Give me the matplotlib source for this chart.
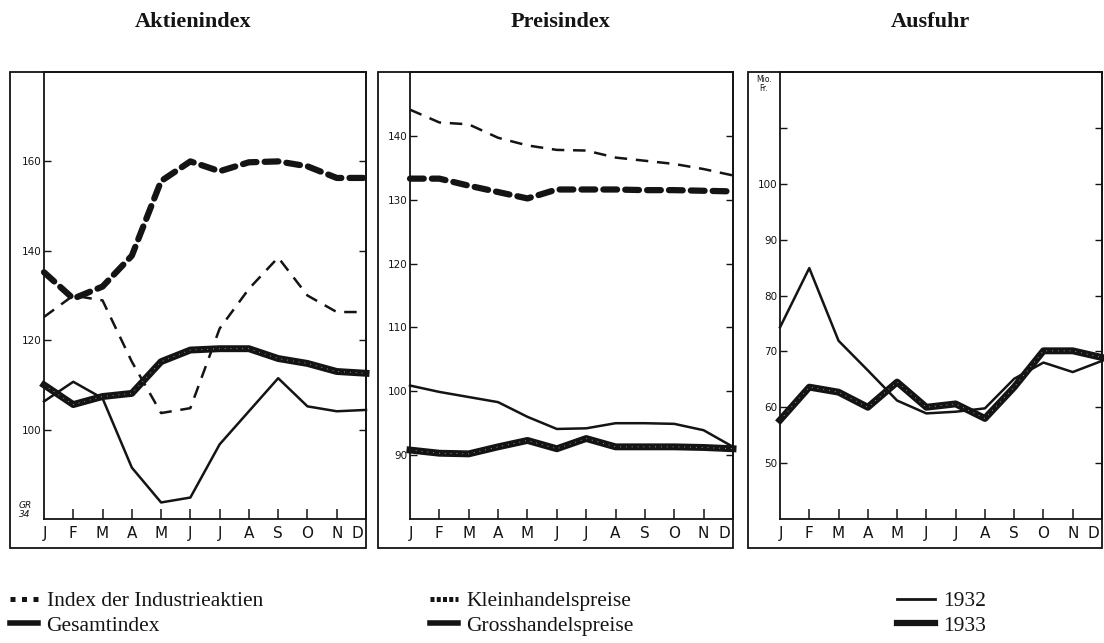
import matplotlib
matplotlib.use("Agg")
import matplotlib.pyplot as plt
from matplotlib.patches import Rectangle
from matplotlib.lines import Line2D

# months
months = ['J', 'F', 'M', 'A', 'M', 'J', 'J', 'A', 'S', 'O', 'N', 'D']

# Aktienindex
industrie_1932 = [125.2, 130.0, 128.9, 115.2, 103.7, 104.8, 122.6, 131.5, 138.5, 130.0, 126.3, 126.3]
industrie_1933 = [135.2, 129.3, 132.0, 138.9, 155.6, 160.0, 157.8, 159.8, 160.0, 158.9, 156.3, 156.3]
gesamt_1932 = [106.3, 110.7, 107.0, 91.5, 83.7, 84.8, 96.7, 104.1, 111.5, 105.2, 104.1, 104.4]
gesamt_1933 = [110.0, 105.6, 107.4, 108.1, 115.2, 117.8, 118.1, 118.1, 115.9, 114.8, 113.0, 112.6]

# Preisindex
klein_1932 = [144.1, 142.1, 141.8, 139.7, 138.5, 137.8, 137.7, 136.6, 136.1, 135.6, 134.8, 133.8]
klein_1933 = [133.3, 133.3, 132.2, 131.2, 130.2, 131.6, 131.6, 131.6, 131.5, 131.5, 131.4, 131.3]
gross_1932 = [100.9, 99.9, 99.1, 98.3, 96.0, 94.1, 94.2, 95.0, 95.0, 94.9, 93.9, 91.3]
gross_1933 = [90.8, 90.3, 90.2, 91.3, 92.3, 91.0, 92.6, 91.3, 91.3, 91.3, 91.2, 91.0]

# Ausfuhr (Mio. Fr.)
ausfuhr_1932 = [74.3, 84.9, 71.9, 66.6, 61.2, 58.9, 59.2, 59.8, 65.1, 68.0, 66.3, 68.3]
ausfuhr_1933 = [57.7, 63.6, 62.7, 60.0, 64.5, 60.0, 60.6, 58.0, 63.6, 70.1, 70.1, 68.9]

titles = ['Aktienindex', 'Preisindex', 'Ausfuhr']

W, H = 1104, 643
INK = '#141414'
SERIF = ['Liberation Serif', 'DejaVu Serif']
HAND = ['DejaVu Sans']

fig = plt.figure(figsize=(W / 100, H / 100), dpi=100)


def px(x0, y0, x1, y1):
    # pixel box (top-left origin) -> figure fraction rect
    return [x0 / W, 1 - y1 / H, (x1 - x0) / W, (y1 - y0) / H]


def thin(ax, vals, dashed=False):
    ls = (0, (5, 3.5)) if dashed else '-'
    ax.plot(range(12), vals, color=INK, lw=1.8, ls=ls, solid_joinstyle='round', clip_on=False)


def thick(ax, vals, dashed=False):
    if dashed:
        ax.plot(range(12), vals, color=INK, lw=4.5, ls=(0, (2.2, 1.3)),
                dash_capstyle='round', clip_on=False)
    else:
        ax.plot(range(12), vals, color=INK, lw=5, solid_joinstyle='round', clip_on=False)
        ax.plot(range(12), vals, color='white', lw=0.6, ls=(0, (1, 6)), alpha=0.7, clip_on=False)


def make_panel(frame_box, inner_box, ylim, yticks, ylabels, title):
    fig.add_artist(Rectangle((frame_box[0], frame_box[1]), frame_box[2], frame_box[3],
                             transform=fig.transFigure, fill=False, ec=INK, lw=1.3))
    ax = fig.add_axes(inner_box)
    ax.set_xlim(0, 11)
    ax.set_ylim(*ylim)
    ax.set_xticks(range(1, 11))
    ax.set_xticklabels([])
    ax.set_yticks(yticks)
    ax.set_yticklabels(ylabels, fontsize=7.5, family=HAND, color=INK)
    ax.tick_params(axis='x', direction='in', length=7, width=1.1, color=INK)
    ax.tick_params(axis='y', direction='in', length=5, width=1.0, color=INK,
                   right=True, pad=2)
    for s in ax.spines.values():
        s.set_color(INK)
        s.set_linewidth(1.3)
    for i, m in enumerate(months):
        xi = 10.7 if i == 11 else (0.05 if i == 0 else i)
        ax.text(xi, -0.032, m, transform=ax.get_xaxis_transform(), ha='center', va='center',
                fontsize=11, family=HAND, color=INK)
    cx = frame_box[0] + frame_box[2] / 2 + 0.005
    fig.text(cx, 1 - 22 / H, title, ha='center', va='center', fontsize=16,
             fontweight='bold', family=SERIF, color=INK)
    return ax


ax1 = make_panel(px(10, 72, 366, 548), px(44, 72, 366, 519), (80, 180),
                 [100, 120, 140, 160], ['100', '120', '140', '160'], titles[0])
thin(ax1, industrie_1932, dashed=True)
thick(ax1, industrie_1933, dashed=True)
thin(ax1, gesamt_1932)
thick(ax1, gesamt_1933)
fig.text(25 / W, 1 - 510 / H, 'GR\n34', fontsize=6.5, style='italic', family=HAND,
         ha='center', va='center', linespacing=0.9, color=INK)

ax2 = make_panel(px(378, 72, 733, 548), px(410, 72, 733, 519), (80, 150),
                 [90, 100, 110, 120, 130, 140], ['90', '100', '110', '120', '130', '140'], titles[1])
thin(ax2, klein_1932, dashed=True)
thick(ax2, klein_1933, dashed=True)
thin(ax2, gross_1932)
thick(ax2, gross_1933)

ax3 = make_panel(px(748, 72, 1102, 548), px(780, 72, 1102, 519), (40, 120),
                 [50, 60, 70, 80, 90, 100, 110], ['50', '60', '70', '80', '90', '100', ''], titles[2])
thin(ax3, ausfuhr_1932)
thick(ax3, ausfuhr_1933)
fig.text(764 / W, 1 - 84 / H, 'Mio.\nFr.', fontsize=5.5, family=HAND, ha='center', va='center',
         linespacing=0.9, color=INK)

# legend
leg_font = {'family': SERIF, 'size': 15.5}
h_ind = Line2D([], [], color=INK, lw=3.6, ls=(0, (1, 1.3)))
h_klein = Line2D([], [], color=INK, lw=3.6, ls=(0, (0.8, 0.45)))
h_solid = Line2D([], [], color=INK, lw=4)
h_thin = Line2D([], [], color=INK, lw=2)
h_thick = Line2D([], [], color=INK, lw=4.5)

legs = [
    ([h_ind, h_solid], ['Index der Industrieaktien', 'Gesamtindex'], 10 / W, 1.3),
    ([h_klein, h_solid], ['Kleinhandelspreise', 'Grosshandelspreise'], 430 / W, 1.3),
    ([h_thin, h_thick], ['1932', '1933'], 897 / W, 1.75),
]
for handles, labels, x, hl in legs:
    lg = fig.legend(handles, labels, loc='upper left', bbox_to_anchor=(x, 1 - 591 / H),
                    frameon=False, prop=leg_font, handlelength=hl, handletextpad=0.4,
                    labelspacing=0.22, borderaxespad=0, borderpad=0)
    for t in lg.get_texts():
        t.set_color(INK)

fig.savefig('out.png', dpi=100, facecolor='white')
